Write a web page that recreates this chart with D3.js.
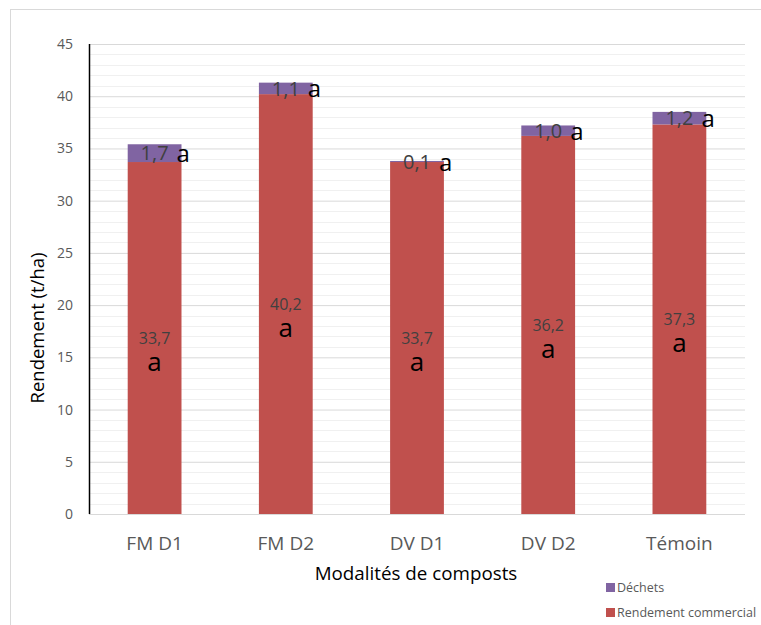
<!DOCTYPE html>
<html>
<head>
<meta charset="utf-8">
<script src="https://cdn.jsdelivr.net/npm/d3@7"></script>
<style>
  body { margin: 0; background: #fff; }
  text { font-family: "Open Sans", sans-serif; }
</style>
</head>
<body>
<div id="chart"></div>
<script>
// chart data
const categories = ['FM D1', 'FM D2', 'DV D1', 'DV D2', 'Témoin'];
const commercial = [33.7, 40.2, 33.7, 36.2, 37.3];
const dechets = [1.7, 1.1, 0.1, 1.0, 1.2];
const groupsBottom = ['a', 'a', 'a', 'a', 'a'];
const groupsTop = ['a', 'a', 'a', 'a', 'a'];
const yTicks = [0, 5, 10, 15, 20, 25, 30, 35, 40, 45];
const seriesNames = ['Déchets', 'Rendement commercial'];
const seriesColors = ['#8064A2', '#C0504D'];

const W = 761, H = 625;
const margin = { top: 44, right: 16, bottom: 111, left: 89 };
const width = W - margin.left - margin.right,
  height = H - margin.top - margin.bottom;

const fmt = (v) => v.toFixed(1).replace('.', ',');

const svg = d3.select('#chart').append('svg')
  .attr('width', W)
  .attr('height', H);

// outer chart border
svg.append('rect')
  .attr('x', 10.5).attr('y', 9.5)
  .attr('width', 800).attr('height', 700)
  .attr('fill', 'none')
  .attr('stroke', '#d9d9d9');

const g = svg.append('g')
  .attr('transform', `translate(${margin.left},${margin.top})`);

const x = d3.scaleBand().domain(categories).range([0, width])
  .paddingInner(0.59).paddingOuter(0.295);
const y = d3.scaleLinear().domain([0, 45]).range([height, 0]);

// minor gridlines
g.append('g').selectAll('line')
  .data(d3.range(0, 46, 1).filter((v) => v % 5 !== 0))
  .join('line')
  .attr('x1', 0).attr('x2', width)
  .attr('y1', (d) => Math.round(y(d)) + 0.5)
  .attr('y2', (d) => Math.round(y(d)) + 0.5)
  .attr('stroke', '#f0f0f0');

// major gridlines
g.append('g')
  .call(d3.axisLeft(y).tickValues(yTicks).tickSizeInner(-width).tickFormat(''))
  .call((s) => s.select('.domain').remove())
  .selectAll('line').attr('stroke', '#d9d9d9');

// y tick labels
g.append('g')
  .call(d3.axisLeft(y).tickValues(yTicks).tickSize(0).tickPadding(16))
  .call((s) => s.select('.domain').remove())
  .selectAll('text')
  .attr('fill', '#595959')
  .style('font-size', '14px');

// bars
g.append('g').selectAll('rect')
  .data(categories)
  .join('rect')
  .attr('x', (d) => x(d))
  .attr('width', x.bandwidth())
  .attr('y', (d, i) => y(commercial[i]))
  .attr('height', (d, i) => y(0) - y(commercial[i]))
  .attr('fill', seriesColors[1]);

g.append('g').selectAll('rect')
  .data(categories)
  .join('rect')
  .attr('x', (d) => x(d))
  .attr('width', x.bandwidth())
  .attr('y', (d, i) => y(commercial[i] + dechets[i]))
  .attr('height', (d, i) => y(commercial[i]) - y(commercial[i] + dechets[i]))
  .attr('fill', seriesColors[0]);

// y axis line
g.append('line')
  .attr('x1', 0.5).attr('x2', 0.5)
  .attr('y1', 0).attr('y2', height)
  .attr('stroke', '#000')
  .attr('stroke-width', 1.5);

// x category labels
g.append('g').selectAll('text')
  .data(categories)
  .join('text')
  .attr('x', (d) => x(d) + x.bandwidth() / 2)
  .attr('y', height + 36)
  .attr('text-anchor', 'middle')
  .attr('fill', '#595959')
  .style('font-size', '19px')
  .text((d) => d);

// value labels, bottom segment
g.append('g').selectAll('text')
  .data(categories)
  .join('text')
  .attr('x', (d) => x(d) + x.bandwidth() / 2)
  .attr('y', (d, i) => y(commercial[i] / 2))
  .attr('dy', '0.35em')
  .attr('text-anchor', 'middle')
  .attr('fill', '#404040')
  .style('font-size', '16px')
  .text((d, i) => fmt(commercial[i]));

g.append('g').selectAll('text')
  .data(categories)
  .join('text')
  .attr('x', (d) => x(d) + x.bandwidth() / 2)
  .attr('y', (d, i) => y(commercial[i] / 2) + 33)
  .attr('text-anchor', 'middle')
  .attr('fill', '#000')
  .style('font-size', '26px')
  .text((d, i) => groupsBottom[i]);

// value labels, top segment
g.append('g').selectAll('text')
  .data(categories)
  .join('text')
  .attr('x', (d) => x(d) + x.bandwidth() / 2)
  .attr('y', (d, i) => y(commercial[i] + dechets[i] / 2))
  .attr('dy', '0.36em')
  .attr('text-anchor', 'middle')
  .attr('fill', '#404040')
  .style('font-size', '20px')
  .text((d, i) => fmt(dechets[i]));

g.append('g').selectAll('text')
  .data(categories)
  .join('text')
  .attr('x', (d) => x(d) + x.bandwidth() / 2 + 22)
  .attr('y', (d, i) => y(commercial[i] + dechets[i] / 2) + 9)
  .attr('fill', '#000')
  .style('font-size', '24px')
  .text((d, i) => groupsTop[i]);

// axis titles
svg.append('text')
  .attr('transform', 'translate(44,328) rotate(-90)')
  .attr('text-anchor', 'middle')
  .attr('fill', '#000')
  .style('font-size', '18.5px')
  .text('Rendement (t/ha)');

svg.append('text')
  .attr('x', 416).attr('y', 580)
  .attr('text-anchor', 'middle')
  .attr('fill', '#000')
  .style('font-size', '18.8px')
  .text('Modalités de composts');

// legend
const legend = svg.append('g')
  .attr('transform', 'translate(606,583)');

const item = legend.selectAll('g')
  .data(seriesNames)
  .join('g')
  .attr('transform', (d, i) => `translate(0,${i * 25})`);

item.append('rect')
  .attr('width', 9).attr('height', 9)
  .attr('fill', (d, i) => seriesColors[i]);

item.append('text')
  .attr('x', 11).attr('y', 4.5)
  .attr('dy', '0.35em')
  .attr('fill', '#595959')
  .style('font-size', '12.5px')
  .text((d) => d);
</script>
</body>
</html>
